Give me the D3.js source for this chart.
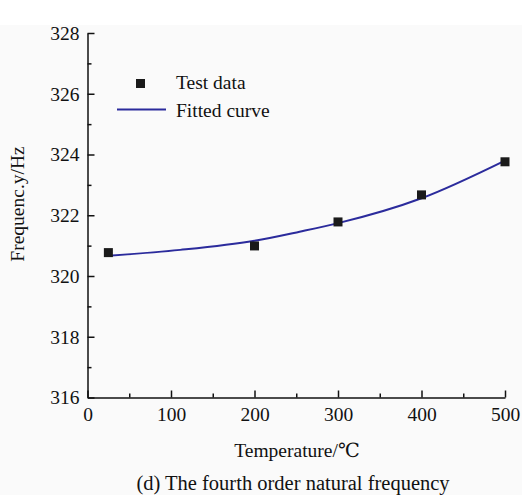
<!DOCTYPE html>
<html>
<head>
<meta charset="utf-8">
<script src="https://cdn.jsdelivr.net/npm/d3@7"></script>
<style>
  body { margin: 0; background: #fafafa; }
  text { font-family: "Liberation Serif", "DejaVu Serif", serif; fill: #111; }
</style>
</head>
<body>
<script>
// test data
const testTemp = [25, 200, 300, 400, 500]
const testFreq = [320.77, 320.99, 321.78, 322.67, 323.76]

// fitted curve
const fitTemp = [25, 111, 200, 254, 300, 400, 500]
const fitFreq = [320.67, 320.86, 321.16, 321.46, 321.74, 322.56, 323.80]

const xTicks = [0, 100, 200, 300, 400, 500]
const yTicks = [316, 318, 320, 322, 324, 326, 328]

const width = 522
const height = 495

const svg = d3.select("body").append("svg")
  .attr("width", width)
  .attr("height", height)

// white strip on top
svg.append("rect").attr("x", 0).attr("y", 0).attr("width", width).attr("height", 25).attr("fill", "#fff")

const x = d3.scaleLinear().domain([0, 500]).range([87.5, 505])
const y = d3.scaleLinear().domain([316, 328]).range([397.5, 33])

// minor ticks first
svg.append("g")
  .attr("transform", "translate(0,397.5)")
  .call(d3.axisBottom(x).tickValues(d3.range(50, 500, 100)).tickSize(-4).tickFormat(""))
  .call(g => g.select(".domain").remove())
svg.append("g")
  .attr("transform", "translate(87.5,0)")
  .call(d3.axisLeft(y).tickValues(d3.range(317, 328, 2)).tickSize(-4).tickFormat(""))
  .call(g => g.select(".domain").remove())

const xAxis = svg.append("g")
  .attr("transform", "translate(0,397.5)")
  .call(d3.axisBottom(x).tickValues(xTicks).tickSizeInner(-7).tickSizeOuter(0).tickPadding(10))
xAxis.selectAll("text").attr("font-size", 19.5).attr("dy", "0.71em")

const yAxis = svg.append("g")
  .attr("transform", "translate(87.5,0)")
  .call(d3.axisLeft(y).tickValues(yTicks).tickSizeInner(-7).tickSizeOuter(0).tickPadding(8))
yAxis.selectAll("text").attr("font-size", 19.5)

svg.selectAll(".domain, .tick line").attr("stroke", "#111").attr("stroke-width", 1.5)
svg.selectAll(".tick text").attr("fill", "#111").attr("font-family", "Liberation Serif, serif")

// fitted curve
const line = d3.line()
  .x((d, i) => x(fitTemp[i]))
  .y(d => y(d))
  .curve(d3.curveMonotoneX)
svg.append("path")
  .attr("d", line(fitFreq))
  .attr("fill", "none")
  .attr("stroke", "#2b2b9c")
  .attr("stroke-width", 2)

// test data squares
svg.selectAll("rect.pt")
  .data(testFreq)
  .enter().append("rect")
  .attr("class", "pt")
  .attr("x", (d, i) => x(testTemp[i]) - 4.5)
  .attr("y", d => y(d) - 4.5)
  .attr("width", 9)
  .attr("height", 9)
  .attr("fill", "#1a1a1a")

// legend
svg.append("rect").attr("x", 136).attr("y", 79).attr("width", 9).attr("height", 9).attr("fill", "#1a1a1a")
svg.append("text").attr("x", 176).attr("y", 89).attr("font-size", 19.5).text("Test data")
svg.append("line").attr("x1", 117).attr("x2", 166).attr("y1", 109.5).attr("y2", 109.5)
  .attr("stroke", "#2b2b9c").attr("stroke-width", 2)
svg.append("text").attr("x", 176).attr("y", 117).attr("font-size", 19.5).text("Fitted curve")

// axis titles
svg.append("text")
  .attr("transform", "translate(24,204) rotate(-90)")
  .attr("text-anchor", "middle")
  .attr("font-size", 19.5)
  .text("Frequenc.y/Hz")
svg.append("text")
  .attr("x", 297).attr("y", 457)
  .attr("text-anchor", "middle")
  .attr("font-size", 19.5)
  .text("Temperature/\u2103")
svg.append("text")
  .attr("x", 293).attr("y", 490)
  .attr("text-anchor", "middle")
  .attr("font-size", 20.5)
  .text("(d) The fourth order natural frequency")
</script>
</body>
</html>
